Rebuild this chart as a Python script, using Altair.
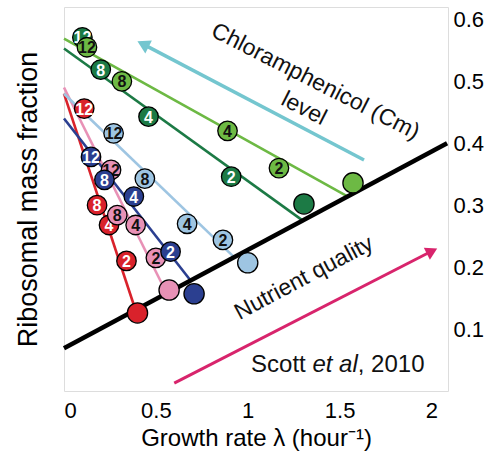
import altair as alt
import pandas as pd

FONT = "Liberation Sans"

# ---------------- data ----------------
SERIES = ["red", "pink", "darkblue", "lightblue", "darkgreen", "lightgreen"]
CM_LABELS = ["2", "4", "8", "12"]

red_cm_lam = [0.34, 0.245, 0.18, 0.11]
red_cm_phi = [0.21, 0.268, 0.30, 0.456]
pink_cm_lam = [0.50, 0.39, 0.29, 0.256]
pink_cm_phi = [0.215, 0.268, 0.284, 0.357]
darkblue_cm_lam = [0.58, 0.38, 0.22, 0.147]
darkblue_cm_phi = [0.225, 0.314, 0.341, 0.378]
lightblue_cm_lam = [0.865, 0.67, 0.44, 0.27]
lightblue_cm_phi = [0.244, 0.27, 0.343, 0.416]
darkgreen_cm_lam = [0.91, 0.46, 0.20, 0.10]
darkgreen_cm_phi = [0.346, 0.443, 0.519, 0.571]
lightgreen_cm_lam = [1.17, 0.89, 0.315, 0.125]
lightgreen_cm_phi = [0.36, 0.42, 0.50, 0.555]

base_lam = [0.40, 0.572, 0.708, 1.00, 1.306, 1.573]
base_phi = [0.126, 0.163, 0.157, 0.207, 0.302, 0.336]

fit_start_lam = [0.0, 0.0, 0.0, 0.0, 0.0, 0.0]
fit_start_phi = [0.48, 0.49, 0.44, 0.48, 0.553, 0.569]
fit_end_lam = [0.39, 0.56, 0.69, 0.93, 1.30, 1.55]
fit_end_phi = [0.13, 0.157, 0.178, 0.215, 0.275, 0.313]

nutrient_lam = [0.0, 2.085]
nutrient_phi = [0.069, 0.40]

cm_arrow_lam = [1.633, 0.43]
cm_arrow_phi = [0.373, 0.56]
nq_arrow_lam = [0.60, 2.003]
nq_arrow_phi = [0.0126, 0.226]

x_ticks = [0, 0.5, 1, 1.5, 2]
y_ticks = [0.1, 0.2, 0.3, 0.4, 0.5, 0.6]

CM_DATA = {
    "red": (red_cm_lam, red_cm_phi),
    "pink": (pink_cm_lam, pink_cm_phi),
    "darkblue": (darkblue_cm_lam, darkblue_cm_phi),
    "lightblue": (lightblue_cm_lam, lightblue_cm_phi),
    "darkgreen": (darkgreen_cm_lam, darkgreen_cm_phi),
    "lightgreen": (lightgreen_cm_lam, lightgreen_cm_phi),
}

# ---------------- styles ----------------
FILL = {
    "red": "#d9222b",
    "pink": "#e891b6",
    "darkblue": "#2b3f90",
    "lightblue": "#9ec5e2",
    "darkgreen": "#1c7a45",
    "lightgreen": "#6db944",
}
TXT = {
    "red": "white",
    "pink": "#111111",
    "darkblue": "white",
    "lightblue": "#111111",
    "darkgreen": "white",
    "lightgreen": "#111111",
}
CYAN = "#74c6cf"
MAGENTA = "#d8246c"

XS = alt.Scale(domain=[0, 2.09], nice=False, zero=False)
YS = alt.Scale(domain=[0, 0.62], nice=False, zero=False)

x_axis = alt.Axis(
    values=x_ticks, format=".1~f", title="Growth rate λ (hour⁻¹)",
    labelFontSize=22, titleFontSize=24, labelFont=FONT, titleFont=FONT,
    titleFontWeight="normal", tickSize=0, domain=False, grid=False,
    labelPadding=9, titlePadding=5, labelColor="black", titleColor="black",
)
y_right = alt.Axis(
    orient="right", values=y_ticks, format=".1f", title=None,
    labelFontSize=22, labelFont=FONT, tickSize=0, domain=False, grid=False,
    labelPadding=5, labelColor="black",
)
y_left = alt.Axis(
    orient="left", labels=False, ticks=False, domain=False, grid=False,
    title="Ribosomal mass fraction", titleFontSize=27, titleFont=FONT,
    titleFontWeight="normal", titlePadding=22, titleColor="black",
)


def X(f="lam"):
    return alt.X(f"{f}:Q", scale=XS, axis=x_axis)


def Y(f="phi", axis=None):
    return alt.Y(f"{f}:Q", scale=YS, axis=axis)


layers = []

# arrows
cm_arrow = pd.DataFrame({"lam": cm_arrow_lam, "phi": cm_arrow_phi, "o": [0, 1]})
layers.append(alt.Chart(cm_arrow).mark_line(color=CYAN, strokeWidth=3.5).encode(
    x=X(), y=Y(axis=y_left), order="o:O"))
layers.append(alt.Chart(cm_arrow.iloc[[1]]).mark_point(
    shape="triangle-up", filled=True, color=CYAN, size=210, angle=297, opacity=1
).encode(x=X(), y=Y()))

nq_arrow = pd.DataFrame({"lam": nq_arrow_lam, "phi": nq_arrow_phi, "o": [0, 1]})
layers.append(alt.Chart(nq_arrow).mark_line(color=MAGENTA, strokeWidth=3).encode(
    x=X(), y=Y(), order="o:O"))
layers.append(alt.Chart(nq_arrow.iloc[[1]]).mark_point(
    shape="triangle-up", filled=True, color=MAGENTA, size=180, angle=63, opacity=1
).encode(x=X(), y=Y()))

# fitted colored lines
rows = []
for i, s in enumerate(SERIES):
    rows.append({"series": s, "lam": fit_start_lam[i], "phi": fit_start_phi[i], "o": 0})
    rows.append({"series": s, "lam": fit_end_lam[i], "phi": fit_end_phi[i], "o": 1})
fits = pd.DataFrame(rows)
layers.append(alt.Chart(fits).mark_line(strokeWidth=2.6).encode(
    x=X(), y=Y(axis=y_right),
    color=alt.Color("series:N", scale=alt.Scale(domain=SERIES, range=[FILL[s] for s in SERIES]), legend=None),
    detail="series:N", order="o:O"))

# nutrient (black) line
nut = pd.DataFrame({"lam": nutrient_lam, "phi": nutrient_phi, "o": [0, 1]})
layers.append(alt.Chart(nut).mark_line(color="black", strokeWidth=4.5).encode(
    x=X(), y=Y(), order="o:O"))

# points per series
for i, s in enumerate(SERIES):
    b = pd.DataFrame({"lam": [base_lam[i]], "phi": [base_phi[i]]})
    layers.append(alt.Chart(b).mark_circle(
        size=410, color=FILL[s], opacity=1, stroke="black", strokeWidth=1.3
    ).encode(x=X(), y=Y()))
    lam, phi = CM_DATA[s]
    c = pd.DataFrame({"lam": lam, "phi": phi, "label": CM_LABELS})
    layers.append(alt.Chart(c).mark_circle(
        size=380, color=FILL[s], opacity=1, stroke="black", strokeWidth=1.3
    ).encode(x=X(), y=Y()))
    layers.append(alt.Chart(c).mark_text(
        font=FONT, fontSize=16, fontWeight="bold", color=TXT[s], baseline="middle", align="center", dy=1
    ).encode(x=X(), y=Y(), text="label:N"))

# annotations
ann = pd.DataFrame({
    "lam": [1.369, 1.306],
    "phi": [0.4997, 0.456],
    "t": ["Chloramphenicol (Cm)", "level"],
})
layers.append(alt.Chart(ann).mark_text(
    font=FONT, fontSize=23, angle=27, align="center", baseline="middle", color="#111111"
).encode(x=X(), y=Y(), text="t:N"))

nq = pd.DataFrame({"lam": [1.306], "phi": [0.1825], "t": ["Nutrient quality"]})
layers.append(alt.Chart(nq).mark_text(
    font=FONT, fontSize=23, angle=332, align="center", baseline="middle", color="#111111"
).encode(x=X(), y=Y(), text="t:N"))

sc1 = pd.DataFrame({"lam": [1.316], "phi": [0.030], "t": ["Scott"]})
sc2 = pd.DataFrame({"lam": [1.352], "phi": [0.030], "t": ["et al"]})
sc3 = pd.DataFrame({"lam": [1.599], "phi": [0.030], "t": [", 2010"]})
layers.append(alt.Chart(sc1).mark_text(font=FONT, fontSize=24, align="right", baseline="alphabetic",
                                       color="#111111").encode(x=X(), y=Y(), text="t:N"))
layers.append(alt.Chart(sc2).mark_text(font=FONT, fontSize=24, fontStyle="italic", align="left",
                                       baseline="alphabetic", color="#111111").encode(x=X(), y=Y(), text="t:N"))
layers.append(alt.Chart(sc3).mark_text(font=FONT, fontSize=24, align="left", baseline="alphabetic",
                                       color="#111111").encode(x=X(), y=Y(), text="t:N"))

chart = alt.layer(*layers).resolve_axis(y="independent").properties(
    width=384, height=384,
    padding={"left": 64, "top": 7, "right": 42, "bottom": 61},
    autosize=alt.AutoSizeParams(type="none"),
    background="white",
).configure_view(stroke="black", strokeWidth=2.5).configure(font=FONT)

chart.save("out.html", embed_options={"renderer": "svg", "actions": False})
